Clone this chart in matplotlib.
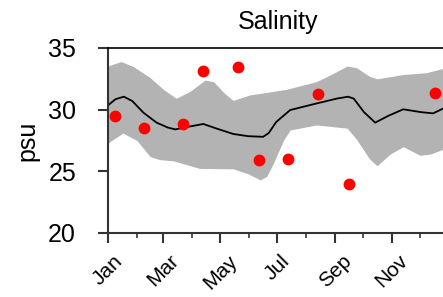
import matplotlib
matplotlib.use("Agg")
import matplotlib.pyplot as plt
import numpy as np

plt.rcParams['font.family'] = ['Liberation Sans', 'DejaVu Sans']

# day of year for the smoothed model line and its band
line_day = [0, 8, 17, 26, 38, 52, 64, 72, 85, 102, 115, 134, 150, 166, 172, 180,
            195, 223, 245, 257, 263, 274, 286, 300, 316, 335, 348, 359, 365]
line_val = [30.35, 30.85, 31.05, 30.7, 29.75, 28.95, 28.55, 28.4, 28.6, 28.84, 28.5,
            28.03, 27.85, 27.8, 28.1, 29.0, 29.97, 30.5, 30.9, 31.05, 30.9, 29.8,
            28.95, 29.5, 30.03, 29.8, 29.7, 30.1, 30.3]

up_day = [0, 14, 27, 45, 60, 73, 88, 104, 113, 125, 134, 152, 170, 191, 223, 240,
          256, 266, 280, 288, 316, 341, 359, 365]
up_val = [33.55, 33.9, 33.5, 32.6, 31.6, 30.92, 31.5, 32.4, 32.27, 31.3, 30.75, 31.2,
          31.4, 31.65, 32.27, 32.9, 33.54, 33.4, 32.7, 32.5, 32.85, 33.0, 33.35, 33.45]

lo_day = [0, 16, 31, 45, 55, 70, 98, 134, 150, 163, 170, 177, 188, 195, 223, 256,
          266, 280, 288, 302, 316, 334, 345, 359, 365]
lo_val = [27.3, 28.1, 27.5, 26.2, 25.95, 25.85, 25.24, 25.2, 24.8, 24.3, 24.6, 25.65,
          27.54, 28.35, 28.76, 28.5, 27.6, 26.0, 25.45, 26.4, 27.0, 26.3, 26.4, 26.8, 26.9]

# observations
obs_day = [7, 38, 80, 102, 139, 162, 193, 225, 258, 350]
obs_val = [29.5, 28.5, 28.85, 33.15, 33.45, 25.95, 26.0, 31.3, 23.95, 31.35]

month_start = [0, 31, 59, 90, 120, 151, 181, 212, 243, 273, 304, 334]
month_names = ['Jan', 'Mar', 'May', 'Jul', 'Sep', 'Nov']

fig = plt.figure(figsize=(4.43, 2.97), dpi=100)
ax = fig.add_axes([108/443, 64/297, 341/443, 185/297])

# band: fill between upper and lower edges on a common grid of their own points
grid = np.array(sorted(set(up_day) | set(lo_day)))
ax.fill_between(grid, np.interp(grid, up_day, up_val), np.interp(grid, lo_day, lo_val),
                color='#b3b3b3', linewidth=0, zorder=1)
ax.plot(line_day, line_val, color='k', lw=1.3, zorder=2)
ax.plot(obs_day, obs_val, 'o', color='#ff0000', ms=8.5, mec='none', zorder=3)

ax.set_xlim(0, 365)
ax.set_ylim(20, 35)
ax.set_yticks([20, 25, 30, 35])
ax.set_xticks(month_start[::2])
ax.set_xticklabels(month_names, rotation=45, ha='center')
ax.set_xticks(month_start[1::2], minor=True)

ax.tick_params(axis='y', labelsize=18, length=7, width=1.5, pad=16, color='#333333')
ax.tick_params(axis='x', which='major', labelsize=15, length=7, width=1.5, pad=6,
               color='#333333')
ax.tick_params(axis='x', which='minor', length=3.5, width=1.2, color='#333333')

for s in ['left', 'bottom']:
    ax.spines[s].set_linewidth(1.5)
    ax.spines[s].set_color('#333333')
ax.spines['top'].set_linewidth(1.2)
ax.spines['right'].set_visible(False)

ax.set_ylabel('psu', fontsize=18, labelpad=6)
ax.set_title('Salinity', fontsize=18, pad=14)

fig.savefig('out.png', dpi=100)
